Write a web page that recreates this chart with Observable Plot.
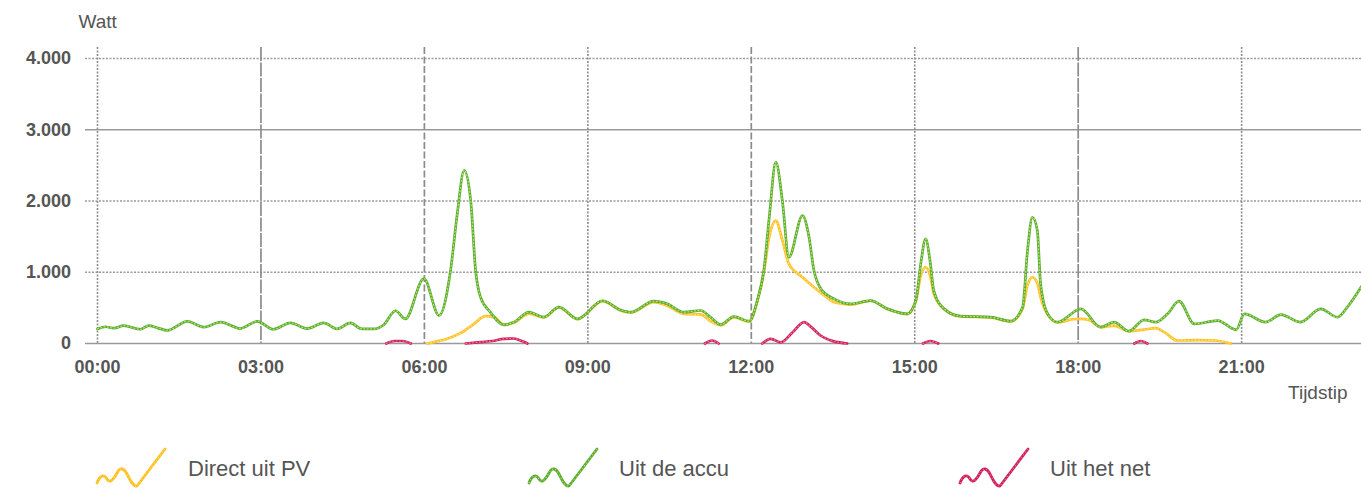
<!DOCTYPE html>
<html>
<head>
<meta charset="utf-8">
<script src="https://cdn.jsdelivr.net/npm/d3@7"></script>
<script src="https://cdn.jsdelivr.net/npm/@observablehq/plot@0.6"></script>
<style>
  html, body { margin: 0; padding: 0; background: #fff; overflow: hidden; }
  #wrap { position: relative; width: 1361px; height: 493px; }
  #chart svg { display: block; }
  .legend { position: absolute; top: 410px; left: 0; width: 1361px; height: 83px; }
  .item { position: absolute; top: 36px; height: 44px; }
  .item svg { position: absolute; left: 0; top: 0; }
  .item span { position: absolute; top: 8px; white-space: nowrap; font-family: "Liberation Sans", Arial, sans-serif; font-size: 22px; color: #555; line-height: 30px; }
</style>
</head>
<body>
<div id="wrap">
  <div id="chart"></div>
  <div class="legend" id="legend"></div>
</div>
<script>
// ---- data (hours since midnight, watt) ----
const accuHours = [0.0,0.15,0.3,0.48,0.79,0.94,1.1,1.28,1.65,1.95,2.26,2.62,2.93,3.23,3.54,3.85,4.15,4.4,4.64,4.85,5.07,5.25,5.47,5.65,5.99,6.27,6.48,6.6,6.73,6.85,6.94,7.03,7.21,7.46,7.64,7.92,8.19,8.47,8.81,9.27,9.6,9.79,10.21,10.46,10.76,11.07,11.25,11.44,11.68,11.96,12.11,12.23,12.33,12.45,12.57,12.69,12.94,13.06,13.15,13.3,13.52,13.82,14.19,14.5,14.86,15.02,15.11,15.2,15.28,15.35,15.54,15.84,16.39,16.76,16.98,17.07,17.16,17.25,17.31,17.44,17.62,18.05,18.41,18.66,18.93,19.21,19.42,19.64,19.85,20.13,20.56,20.9,21.05,21.44,21.72,22.08,22.45,22.76,22.94,23.2];
const accuWatt  = [205,235,215,250,200,250,220,185,310,230,300,210,310,200,290,210,290,205,290,205,205,260,460,345,910,393,1024,1800,2430,2006,1024,650,440,262,300,440,370,510,346,600,470,440,594,556,440,463,370,266,378,313,603,1024,1772,2545,2006,1211,1795,1491,1024,743,627,556,603,486,416,603,1118,1468,1164,743,486,383,370,313,510,1304,1772,1585,837,416,300,486,229,300,173,332,300,416,594,276,322,192,416,300,406,300,486,370,510,800];

const pvHours = [6.05,6.23,6.42,6.66,6.91,7.12,7.28,7.46,7.64,7.92,8.19,8.47,8.81,9.27,9.6,9.79,10.21,10.46,10.76,11.07,11.25,11.44,11.68,11.96,12.11,12.23,12.33,12.45,12.57,12.69,12.94,13.15,13.3,13.52,13.82,14.19,14.5,14.86,15.02,15.11,15.2,15.28,15.35,15.54,15.84,16.39,16.76,16.98,17.07,17.16,17.25,17.31,17.44,17.62,17.9,18.05,18.2,18.41,18.66,18.93,19.21,19.42,19.58,19.82,20.2,20.5,20.8];
const pvWatt  = [0,30,66,145,276,383,370,262,290,420,365,505,340,595,465,435,580,530,416,409,313,255,370,305,590,1000,1500,1725,1450,1118,930,790,700,580,547,600,483,413,590,950,1070,960,700,480,380,366,310,490,820,930,850,650,405,295,340,346,330,229,252,173,196,215,159,42,47,42,0];

const netHours = [5.3,5.45,5.6,5.75,5.76, 6.76,7.03,7.25,7.46,7.64,7.8,7.89,7.9, 11.15,11.28,11.4,11.41, 12.2,12.36,12.54,12.75,12.97,13.1,13.27,13.5,13.76,13.77, 15.15,15.29,15.43,15.44, 19.03,19.15,19.27];
const netWatt  = [0,35,35,0,null, 0,20,35,66,70,30,0,null, 0,42,0,null, 0,66,15,150,300,230,112,33,0,null, 0,35,0,null, 0,35,0];

const xTicks = [0,3,6,9,12,15,18,21];
const xTickLabels = ["00:00","03:00","06:00","09:00","12:00","15:00","18:00","21:00"];
const yTicks = [0,1000,2000,3000,4000];
const yTickLabels = ["0","1.000","2.000","3.000","4.000"];
const seriesNames = ["Direct uit PV","Uit de accu","Uit het net"];
const yLabel = "Watt";
const xLabel = "Tijdstip";

// ---- build tables ----
const table = (hours, values) => hours.map((t, i) => ({t, v: values[i]}));
const accu = table(accuHours, accuWatt);
const pv = table(pvHours, pvWatt);
const net = table(netHours, netWatt);

const colors = {
  pv:   {base: "#ffbf1f", dots: "#ffe27a"},
  accu: {base: "#5cab32", dots: "#b2e86c"},
  net:  {base: "#d0215a", dots: "#ec75a2"}
};

const lineMarks = (data, c) => [
  Plot.line(data, {x: "t", y: "v", curve: "monotone-x", stroke: c.base, strokeWidth: 2.7}),
  Plot.line(data, {x: "t", y: "v", curve: "monotone-x", stroke: c.dots, strokeWidth: 1.2, strokeDasharray: "1,2.4"})
];

const gridColor = "#9a9a9a";
const vColor = "#8c8c8c";
const dottedV = [0, 3, 5, 7];   // tick indices
const longDashV = [1, 6];
const dashV = [2, 4];

const chart = Plot.plot({
  width: 1361,
  height: 410,
  marginLeft: 97,
  marginRight: 0,
  marginTop: 58,
  marginBottom: 67,
  x: {domain: [0, 23.2], axis: null},
  y: {domain: [0, 4000], axis: null},
  style: {fontFamily: "'Liberation Sans', Arial, sans-serif", background: "#fff"},
  marks: [
    // horizontal grid
    Plot.ruleY(yTicks.filter(d => d !== 0 && d !== 3000), {y: d => d, stroke: gridColor, strokeWidth: 1.7, strokeDasharray: "2,1.5", insetLeft: -12}),
    Plot.ruleY(yTicks.filter(d => d === 3000), {y: d => d, stroke: gridColor, strokeWidth: 1.6, insetLeft: -12}),
    // vertical grid
    Plot.ruleX(xTicks.filter((d, i) => dottedV.includes(i)), {x: d => d, stroke: vColor, strokeWidth: 1.6, strokeDasharray: "2,1.5", insetTop: -11}),
    Plot.ruleX(xTicks.filter((d, i) => longDashV.includes(i)), {x: d => d, stroke: vColor, strokeWidth: 1.7, strokeDasharray: "14,1.5", insetTop: -11}),
    Plot.ruleX(xTicks.filter((d, i) => dashV.includes(i)), {x: d => d, stroke: vColor, strokeWidth: 1.7, strokeDasharray: "7,2.5", insetTop: -11}),
    // baseline
    Plot.ruleY([0], {stroke: gridColor, strokeWidth: 1.6, insetLeft: -12}),
    // series
    ...lineMarks(pv, colors.pv),
    ...lineMarks(net, colors.net),
    ...lineMarks(accu, colors.accu),
    // tick labels
    Plot.text(xTicks, {x: d => d, y: 0, text: (d, i) => xTickLabels[i], dy: 23.5, lineAnchor: "middle", fontSize: 18, fontWeight: "bold", fill: "#555"}),
    Plot.text(yTicks, {x: 0, y: d => d, text: (d, i) => yTickLabels[i], dx: -26.5, textAnchor: "end", lineAnchor: "middle", fontSize: 18, fontWeight: "bold", fill: "#555"}),
    // axis labels
    Plot.text([yLabel], {frameAnchor: "top-left", text: d => d, dx: -19, dy: -37, textAnchor: "start", lineAnchor: "middle", fontSize: 19, fill: "#555"}),
    Plot.text([xLabel], {frameAnchor: "bottom-right", text: d => d, dx: -14, dy: 49, textAnchor: "end", lineAnchor: "middle", fontSize: 19, fill: "#555"})
  ]
});
document.getElementById("chart").appendChild(chart);

// ---- legend ----
const legendItems = [
  {name: seriesNames[0], c: colors.pv, left: 95, textLeft: 188},
  {name: seriesNames[1], c: colors.accu, left: 527, textLeft: 619},
  {name: seriesNames[2], c: colors.net, left: 958, textLeft: 1050}
];
const iconPath = "M2,37 C5,29 9,28 12,33 C15,38 19,33 22,27 C25,21 29,22 32,28 C35,34 38,41 42,40 L70,3";
const legend = document.getElementById("legend");
legendItems.forEach(it => {
  const div = document.createElement("div");
  div.className = "item";
  div.style.left = it.left + "px";
  div.innerHTML = `<svg width="74" height="44" viewBox="0 0 74 44">
      <path d="${iconPath}" fill="none" stroke="${it.c.base}" stroke-width="2.8" stroke-linecap="round" stroke-linejoin="round"/>
      <path d="${iconPath}" fill="none" stroke="${it.c.dots}" stroke-width="1.2" stroke-dasharray="1,2.4"/>
    </svg><span style="left:${it.textLeft - it.left}px">${it.name}</span>`;
  legend.appendChild(div);
});
</script>
</body>
</html>
